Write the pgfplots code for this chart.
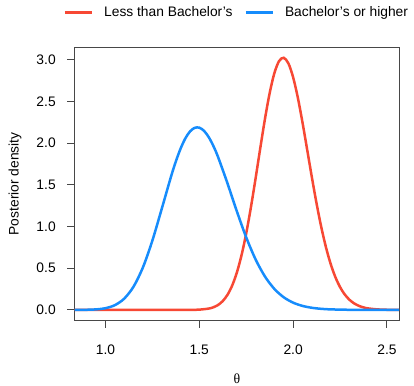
\documentclass[border=0pt]{standalone}
\usepackage{fontspec}
\setmainfont{Liberation Sans}
\newfontfamily\grfont{Liberation Serif}
\usepackage{pgfplots}
\pgfplotsset{compat=1.18}
\definecolor{cred}{RGB}{247,72,52}
\definecolor{cblue}{RGB}{22,140,252}
\newcommand\ff{\fontsize{13.8bp}{16bp}\selectfont}
\begin{document}
\begin{tikzpicture}
\begin{axis}[
  at={(0,0)}, anchor=south west,
  scale only axis,
  width=324.3bp, height=272.3bp,
  xmin=0.836, xmax=2.564, ymin=-0.121, ymax=3.145,
  xtick={1.0,1.5,2.0,2.5}, ytick={0,0.5,1,1.5,2,2.5,3},
  xticklabels={1.0,1.5,2.0,2.5},
  yticklabels={0.0,0.5,1.0,1.5,2.0,2.5,3.0},
  tick align=outside, major tick length=7.5bp,
  tick pos=left,
  axis line style={draw=black!72, line width=1bp},
  every tick/.style={draw=black!72, line width=1bp},
  /pgf/number format/assume math mode=true,
  tick label style={font=\ff},
  xticklabel style={anchor=north, yshift=-14bp},
  yticklabel style={anchor=east, xshift=-8bp},
  xlabel={\grfont\ff θ},
  ylabel={Posterior density},
  xlabel style={at={(axis description cs:0.5,-0.214)}, anchor=center, font=\ff},
  ylabel style={at={(axis description cs:-0.184,0.5)}, anchor=center, font=\ff},
  legend style={at={(axis description cs:0.5,1.13)}, anchor=center, draw=none, fill=none, font=\ff,
    legend columns=2, /tikz/every even column/.append style={column sep=10bp},
    inner sep=0pt, legend cell align=left},
  legend image code/.code={\draw[#1] (0bp,0bp) -- (27bp,0bp);},
  clip=true,
]
\addplot[cred, line width=2.5bp, smooth] coordinates {
(0.836,0) (1.0,0) (1.2,0) (1.3,0) (1.4,0.0001) (1.45,0.0006) (1.5,0.0034) (1.55,0.0159)
(1.575,0.0317) (1.6,0.0596) (1.625,0.1065) (1.65,0.1807) (1.675,0.2915) (1.7,0.4478)
(1.725,0.6566) (1.75,0.9195) (1.775,1.2316) (1.8,1.5798) (1.825,1.9429) (1.85,2.2938)
(1.875,2.6024) (1.9,2.8403) (1.925,2.9850) (1.95,3.0239) (1.975,2.9555) (2.0,2.7894)
(2.025,2.5445) (2.05,2.2452) (2.075,1.9179) (2.1,1.5875) (2.125,1.2738) (2.15,0.9918)
(2.175,0.7497) (2.2,0.5507) (2.225,0.3933) (2.25,0.2733) (2.275,0.1848) (2.3,0.1217)
(2.325,0.0781) (2.35,0.0489) (2.375,0.0299) (2.4,0.0178) (2.45,0.0059) (2.5,0.0018) (2.564,0.0004)
};
\addlegendentry{\hspace{9bp}Less than Bachelor's}
\addplot[cblue, line width=2.5bp, smooth] coordinates {
(0.836,0.0002) (0.9,0.0016) (0.95,0.0063) (1.0,0.0206) (1.05,0.0570) (1.1,0.1356)
(1.15,0.2808) (1.2,0.5124) (1.25,0.8324) (1.3,1.2144) (1.35,1.6047) (1.375,1.7811)
(1.4,1.9339) (1.425,2.0553) (1.45,2.1397) (1.475,2.1836) (1.5,2.1859) (1.525,2.1480)
(1.55,2.0729) (1.575,1.9660) (1.6,1.8333) (1.65,1.5186) (1.7,1.1829) (1.75,0.8695)
(1.8,0.6050) (1.85,0.3998) (1.9,0.2516) (1.95,0.1512) (2.0,0.0869) (2.05,0.0479)
(2.1,0.0254) (2.15,0.0129) (2.2,0.0064) (2.3,0.0014) (2.4,0.0003) (2.564,0.0000)
};
\addlegendentry{\hspace{9bp}Bachelor's or higher}
\end{axis}
\pgfresetboundingbox
\path[use as bounding box] (-74.7bp,-66bp) rectangle (339.3bp,320bp);
\end{tikzpicture}
\end{document}
